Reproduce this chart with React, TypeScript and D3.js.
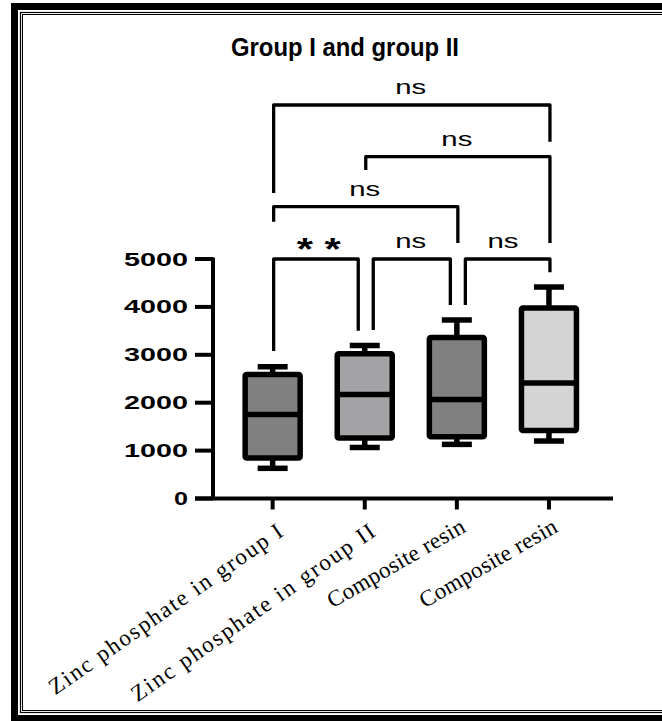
import React from "react";
import * as d3 from "d3";

const categories = ["Zinc phosphate in group I", "Zinc phosphate in group II", "Composite resin", "Composite resin"];
const mins = [630, 1065, 1130, 1200];
const q1s = [845, 1263, 1290, 1420];
const medians = [1754, 2171, 2067, 2411];
const q3s = [2590, 3023, 3361, 3977];
const maxs = [2750, 3194, 3727, 4415];
const fills = ["#808080", "#a3a3a6", "#808080", "#d4d4d4"];
const yTicks = [0, 1000, 2000, 3000, 4000, 5000];

// significance brackets
const sigFrom = [0, 1, 2, 0, 1, 0];
const sigTo = [1, 2, 3, 2, 3, 3];
const sigLabels = ["* *", "ns", "ns", "ns", "ns", "ns"];
const sigLevel = [5000, 5000, 5000, 6092, 7136, 8215];
const sigLeftEnd = [3079, 3518, 4040, 5779, 6858, 6378];
const sigRightEnd = [3503, 4040, 4722, 5334, 5334, 7449];

// layout for rotated category labels
const LABEL_LEN = [280, 292, 155, 155];
const LABEL_ANGLE = [-35, -35, -30, -30];

const W = 662, H = 721;

export default function App() {
  const y = d3.scaleLinear().domain([0, 5000]).range([498.5, 259]);
  const x = d3.scaleBand<number>().domain([0, 1, 2, 3]).range([226.6, 595.0]).paddingInner(0).paddingOuter(0);
  const cx = (i: number) => (x(i) as number) + x.bandwidth() / 2;
  const boxW = 55, capW = 30, sw = 5.5;
  const data = categories.map((c, i) => ({ c, i, min: mins[i], q1: q1s[i], med: medians[i], q3: q3s[i], max: maxs[i], fill: fills[i] }));

  const legX = (k: number, side: "L" | "R") => {
    const g = side === "L" ? sigFrom[k] : sigTo[k];
    const adjacent = sigTo[k] - sigFrom[k] === 1;
    if (adjacent && side === "R" && g !== 3) return cx(g) - 6.5;
    if (adjacent && side === "L" && g !== 0) return cx(g) + 8.5;
    return cx(g) + 1;
  };

  return (
    <div style={{ position: "absolute", left: 0, top: 0, width: W, height: H, overflow: "hidden" }}>
      <svg width={W} height={H} style={{ display: "block", background: "#fff" }}>
        {/* frame */}
        <rect x={0} y={0} width={W} height={H} fill="#fff" />
        <rect x={11} y={3} width={W + 20} height={7} fill="#000" />
        <rect x={11} y={3} width={7} height={H} fill="#000" />
        <rect x={11} y={715} width={W + 20} height={10} fill="#000" />
        <rect x={20.5} y={12.5} width={W + 40} height={700} fill="none" stroke="#000" strokeWidth={1.2} />
        <rect x={22.5} y={14.5} width={W + 40} height={696} fill="none" stroke="#000" strokeWidth={1} />

        {/* title */}
        <text x={345} y={56} textAnchor="middle" fontFamily="'Liberation Sans', Arial, sans-serif" fontWeight="bold" fontSize={25} textLength={228} lengthAdjust="spacingAndGlyphs">Group I and group II</text>

        {/* y axis */}
        <line x1={213} x2={213} y1={y(5000) - 1.5} y2={y(0)} stroke="#000" strokeWidth={4} />
        {yTicks.map((t) => (
          <g key={t}>
            <line x1={195} x2={213} y1={y(t)} y2={y(t)} stroke="#000" strokeWidth={4} />
            <text x={188} y={y(t) + 6.5} textAnchor="end" fontFamily="'Liberation Sans', Arial, sans-serif" fontWeight="bold" fontSize={18} textLength={t === 0 ? 14 : 64} lengthAdjust="spacingAndGlyphs">{String(t)}</text>
          </g>
        ))}
        {/* x axis */}
        <line x1={195} x2={613} y1={y(0)} y2={y(0)} stroke="#000" strokeWidth={4} />
        {data.map((d) => {
          const short = d.i >= 2;
          return (
            <g key={d.i}>
              <line x1={cx(d.i)} x2={cx(d.i)} y1={y(0)} y2={y(0) + 11} stroke="#000" strokeWidth={4} />
              <text
                transform={`translate(${cx(d.i) + (short ? 10 : 12)},${short ? 531 : 535}) rotate(${LABEL_ANGLE[d.i]})`}
                textAnchor="end"
                fontFamily="'Liberation Serif', 'Times New Roman', serif"
                fontSize={23}
                textLength={LABEL_LEN[d.i]}
                lengthAdjust="spacing"
              >{d.c}</text>
            </g>
          );
        })}

        {/* boxes */}
        {data.map((d) => {
          const c = cx(d.i);
          return (
            <g key={"b" + d.i} stroke="#000" strokeWidth={sw} strokeLinejoin="round">
              <line x1={c} x2={c} y1={y(d.q3)} y2={y(d.max)} />
              <line x1={c} x2={c} y1={y(d.q1)} y2={y(d.min)} />
              <line x1={c - capW / 2} x2={c + capW / 2} y1={y(d.max)} y2={y(d.max)} />
              <line x1={c - capW / 2} x2={c + capW / 2} y1={y(d.min)} y2={y(d.min)} />
              <rect x={c - boxW / 2} y={y(d.q3)} width={boxW} height={y(d.q1) - y(d.q3)} fill={d.fill} rx={1.5} />
              <line x1={c - boxW / 2} x2={c + boxW / 2} y1={y(d.med)} y2={y(d.med)} />
            </g>
          );
        })}

        {/* significance brackets */}
        {sigFrom.map((f, k) => {
          const xl = legX(k, "L"), xr = legX(k, "R");
          const ly = y(sigLevel[k]);
          const mid = (cx(f) + cx(sigTo[k])) / 2;
          const isStar = sigLabels[k].includes("*");
          return (
            <g key={"s" + k}>
              <path d={`M${xl},${y(sigLeftEnd[k])} V${ly} H${xr} V${y(sigRightEnd[k])}`} fill="none" stroke="#000" strokeWidth={3.3} strokeLinejoin="round" />
              {isStar ? (
                <text x={mid} y={ly + 1} textAnchor="middle" fontFamily="'Liberation Sans', Arial, sans-serif" fontWeight="bold" fontSize={32} textLength={44} lengthAdjust="spacingAndGlyphs">{sigLabels[k]}</text>
              ) : (
                <text x={mid} y={ly - 11} textAnchor="middle" fontFamily="'Liberation Sans', Arial, sans-serif" fontSize={21} textLength={31} lengthAdjust="spacingAndGlyphs">{sigLabels[k]}</text>
              )}
            </g>
          );
        })}
      </svg>
    </div>
  );
}
